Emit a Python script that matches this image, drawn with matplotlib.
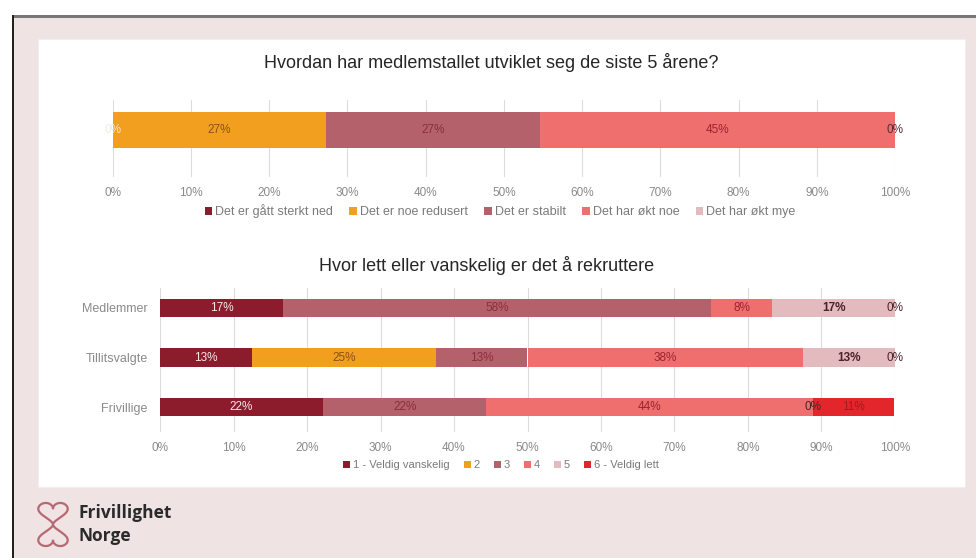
import numpy as np
import matplotlib
matplotlib.use("Agg")
import matplotlib.pyplot as plt
from matplotlib.patches import Rectangle, Patch

plt.rcParams['font.family'] = ['Liberation Sans', 'DejaVu Sans']

# ---------------- data ----------------
top_title = "Hvordan har medlemstallet utviklet seg de siste 5 årene?"
top_categories = ["Det er gått sterkt ned", "Det er noe redusert", "Det er stabilt",
                  "Det har økt noe", "Det har økt mye"]
top_values = [0.0, 27.3, 27.3, 45.4, 0.0]

bot_title = "Hvor lett eller vanskelig er det å rekruttere"
bot_rows = ["Medlemmer", "Tillitsvalgte", "Frivillige"]
bot_categories = ["1 - Veldig vanskelig", "2", "3", "4", "5", "6 - Veldig lett"]
bot_values = {
    "Medlemmer":     [16.7, 0.0, 58.3, 8.3, 16.7, 0.0],
    "Tillitsvalgte": [12.5, 25.0, 12.5, 37.5, 12.5, 0.0],
    "Frivillige":    [22.2, 0.0, 22.2, 44.4, 0.0, 11.1],
}
x_ticks = [0, 10, 20, 30, 40, 50, 60, 70, 80, 90, 100]
x_ticklabels = ["0%", "10%", "20%", "30%", "40%", "50%", "60%", "70%", "80%", "90%", "100%"]

# ---------------- styles ----------------
top_colors = ["#8c1c2c", "#f29f1f", "#b5616b", "#ef6f6f", "#e3babd"]
top_label_colors = ["#f4e9e0", "#8a5212", "#8a2f3c", "#9c2330", "#5a2a32"]
bot_colors = ["#8c1c2c", "#f29f1f", "#b5616b", "#ef6f6f", "#e3babd", "#e3262b"]
bot_label_colors = ["#f6e8ea", "#8a5212", "#8a2f3c", "#9c2330", "#4a2228", "#a31b1f"]

W, H = 976, 558
fig = plt.figure(figsize=(W / 100, H / 100), dpi=100)
fig.patch.set_facecolor("white")


def rect(l, t, r, b):
    return [l / W, 1 - b / H, (r - l) / W, (b - t) / H]


def fx(x):
    return x / W


def fy(y):
    return 1 - y / H


def pct(v):
    return f"{int(np.floor(v + 0.5))}%"


# background frame
fig.patches.append(Rectangle((fx(12), 0), fx(976 - 12), fy(16), transform=fig.transFigure,
                             facecolor="#efe3e3", edgecolor="none", zorder=-10))
fig.patches.append(Rectangle((fx(12), fy(18)), fx(976 - 12), 3 / H, transform=fig.transFigure,
                             facecolor="#777777", edgecolor="none", zorder=-9))
fig.patches.append(Rectangle((fx(12), 0), 2 / W, fy(15), transform=fig.transFigure,
                             facecolor="#222222", edgecolor="none", zorder=-9))
fig.patches.append(Rectangle((fx(38), fy(487)), fx(965 - 38), (487 - 39) / H,
                             transform=fig.transFigure, facecolor="white",
                             edgecolor="#f3eeee", lw=0.8, zorder=-8))

tick_color = "#8a8a8a"
grid_color = "#dcdcdc"


def style_axis(ax):
    ax.set_xlim(0, 100)
    ax.set_xticks(x_ticks)
    ax.set_xticklabels(x_ticklabels, fontsize=8.5, color=tick_color)
    ax.tick_params(axis="x", length=0, pad=7)
    ax.tick_params(axis="y", length=0)
    for s in ax.spines.values():
        s.set_visible(False)
    ax.xaxis.grid(True, color=grid_color, lw=0.8)
    ax.set_axisbelow(True)
    ax.patch.set_alpha(0)


# ---------------- top chart ----------------
ax1 = fig.add_axes(rect(112.7, 100, 895, 177))
style_axis(ax1)
ax1.set_ylim(-1.22, 0.78)
ax1.set_yticks([])
left = 0.0
for i, (v, c) in enumerate(zip(top_values, top_colors)):
    ax1.barh(0, v, left=left, height=0.93, color=c, zorder=2)
    ax1.text(left + v / 2 if v > 0 else left, 0, pct(v), ha="center", va="center",
             fontsize=8.5, color=top_label_colors[i], zorder=5)
    left += v

fig.text(fx(491), fy(62), top_title, ha="center", va="center", fontsize=13, color="#262626")
handles = [Patch(facecolor=c, edgecolor="none", label=l) for c, l in zip(top_colors, top_categories)]
fig.legend(handles=handles, loc="center", bbox_to_anchor=(fx(500), fy(211)), ncol=5,
           frameon=False, fontsize=9, handlelength=0.6, handleheight=0.6,
           handletextpad=0.25, columnspacing=1.3, labelcolor="#7a7a7a")

# ---------------- bottom chart ----------------
ax2 = fig.add_axes(rect(160, 288, 895, 432))
style_axis(ax2)
ax2.set_ylim(2.5, -0.4)
ax2.set_yticks(range(len(bot_rows)))
ax2.set_yticklabels(bot_rows, fontsize=9, color=tick_color)
ax2.tick_params(axis="y", pad=9)
for r, row in enumerate(bot_rows):
    left = 0.0
    for i, v in enumerate(bot_values[row]):
        ax2.barh(r, v, left=left, height=0.37, color=bot_colors[i], zorder=2)
        if v > 0:
            ax2.text(left + v / 2, r, pct(v), ha="center", va="center", fontsize=8.5,
                     color=bot_label_colors[i], zorder=5,
                     fontweight="bold" if i == 4 else "normal")
        else:
            faint = i == 1
            ax2.text(left, r, "0%", ha="center", va="center", fontsize=8.5,
                     color="#c07a82" if faint else "#4a2228", zorder=1 if faint else 5)
        left += v

fig.text(fx(487), fy(266), bot_title, ha="center", va="center", fontsize=13, color="#262626")
handles = [Patch(facecolor=c, edgecolor="none", label=l) for c, l in zip(bot_colors, bot_categories)]
fig.legend(handles=handles, loc="center", bbox_to_anchor=(fx(501), fy(465)), ncol=6,
           frameon=False, fontsize=8, handlelength=0.6, handleheight=0.6,
           handletextpad=0.25, columnspacing=1.3, labelcolor="#7a7a7a")

# ---------------- logo ----------------
axl = fig.add_axes(rect(30, 497, 76, 552))
axl.set_axis_off()
t = np.linspace(0, 2 * np.pi, 300)
hx = 16 * np.sin(t) ** 3
hy = 13 * np.cos(t) - 5 * np.cos(2 * t) - 2 * np.cos(3 * t) - np.cos(4 * t)
axl.plot(hx * 0.8, hy * 0.75 + 13, color="#b86874", lw=1.6)
axl.plot(hx * 0.8, -hy * 0.75 - 13, color="#b86874", lw=1.6)
axl.set_xlim(-20, 20)
axl.set_ylim(-28, 28)
fig.text(fx(78), fy(513), "Frivillighet", ha="left", va="center", fontsize=12.5,
         fontweight="bold", color="#2a2a2a", family=["Open Sans", "DejaVu Sans"])
fig.text(fx(78), fy(536), "Norge", ha="left", va="center", fontsize=12.5,
         fontweight="bold", color="#2a2a2a", family=["Open Sans", "DejaVu Sans"])

fig.savefig("out.png", dpi=100)
